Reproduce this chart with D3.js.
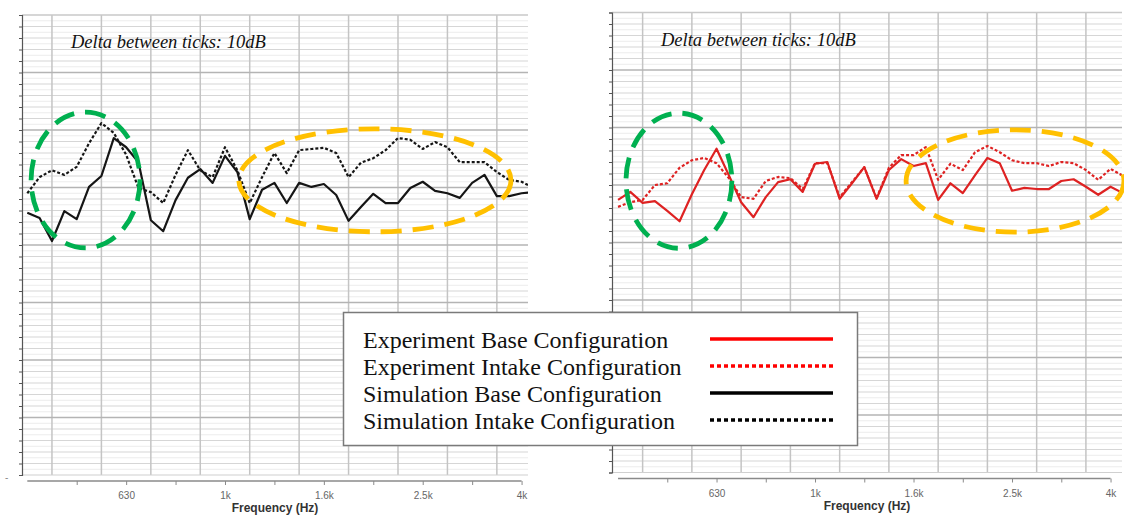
<!DOCTYPE html>
<html><head><meta charset="utf-8">
<script src="https://cdn.jsdelivr.net/npm/d3@7"></script>
<style>
html,body{margin:0;padding:0;background:#fff;}
svg{display:block;}
</style></head>
<body><svg id="chart" width="1124" height="515"></svg>
<script>
// 1/12-octave analysis frequencies (Hz)
const freqs = [396.9,420.4,445.4,471.9,500,529.7,561.2,594.6,630,667.4,707.1,749.2,793.7,840.9,890.9,943.9,1000,1059.5,1122.5,1189.2,1259.9,1334.8,1414.2,1498.3,1587.4,1681.8,1781.8,1887.7,2000,2118.9,2244.9,2378.4,2519.8,2669.6,2828.4,2996.6,3174.8,3363.6,3563.6,3775.5,4000,4237.9];
// level (dB, relative)
const simBase   = [45.6,44.7,40.7,45.9,44.5,50.1,52.0,58.6,57.0,54.4,44.3,42.4,47.8,51.7,53.2,50.8,55.5,52.7,44.5,49.6,50.8,47.3,50.8,50.1,50.6,48.7,44.2,46.6,48.9,47.3,47.3,49.9,51.0,49.4,49.0,48.2,50.8,52.2,48.5,48.5,49.0,49.2];
const simIntake = [49.0,51.8,53.0,52.2,53.6,57.7,61.2,59.5,55.7,49.9,49.2,47.3,52.2,56.5,53.0,51.8,57.0,53.0,47.3,51.8,56.0,52.5,56.5,56.7,56.9,56.0,51.8,54.3,55.1,56.5,58.6,58.3,56.7,57.9,57.0,54.4,54.4,54.4,52.7,51.3,51.0,49.9];
const expBase   = [47.4,48.8,46.9,47.2,45.5,43.7,48.4,52.6,56.3,51.7,47.0,44.4,47.9,50.5,51.0,48.8,53.7,54.0,47.6,50.3,53.1,47.6,52.6,54.5,53.3,53.8,47.4,50.3,48.6,51.7,54.7,53.8,49.0,49.5,49.3,49.3,50.7,51.0,49.7,48.3,49.7,48.6];
const expIntake = [46.2,47.0,47.4,50.0,50.3,53.0,54.3,54.7,53.8,51.2,47.9,47.6,50.7,51.4,51.2,49.3,53.8,53.8,47.9,50.5,53.1,47.7,53.0,55.2,55.2,56.6,50.9,53.7,52.6,55.7,56.8,55.7,54.3,53.8,53.8,53.3,54.0,53.8,52.6,50.9,52.8,51.6];

const tickFreqs  = [500,630,793.7,1000,1259.9,1587.4,2000,2519.8,3174.8,4000];
const tickLabels = ["","630","","1k","","1.6k","","2.5k","","4k"];
const gridFreqs  = [445.4,561.2,707.1,890.9,1122.5,1414.2,1781.8,2244.9,2828.4,3563.6];
const legendLabels = ["Experiment Base Configuration","Experiment Intake Configuration","Simulation Base Configuration","Simulation Intake Configuration"];
const noteText = "Delta between ticks: 10dB";
const xTitle = "Frequency (Hz)";
// highlight regions: [fLow, fHigh, dBLow, dBHigh]
const leftGreen  = [404, 672, 39.5, 63.1];
const leftYellow = [1067, 3807, 42.3, 60.2];
const rightGreen = [412, 677, 39.0, 62.5];
const rightYellow= [1533, 4260, 41.8, 59.6];

const svg = d3.select("#chart");
const defs = svg.append("defs");

const styles = {
  expBase:   {stroke:"#de2222", dash:null, w:2.2},
  expIntake: {stroke:"#de2222", dash:"3,2", w:2.2},
  simBase:   {stroke:"#151515", dash:null, w:2.2},
  simIntake: {stroke:"#151515", dash:"3,2", w:2.2}
};

function panel(id, x0, x1, y0, y1, fDom, series, ellipses) {
  const x = d3.scaleLog().domain(fDom).range([x0, x1]);
  const y = d3.scaleLinear().domain([0, 80]).range([y1, y0]);
  const g = svg.append("g");
  defs.append("clipPath").attr("id", "clip" + id)
    .append("rect").attr("x", x0).attr("y", y0).attr("width", x1 - x0).attr("height", y1 - y0);

  // horizontal grid
  const sub = d3.range(1, 80, 2);
  g.selectAll(".hs").data(sub).join("line")
    .attr("x1", x0).attr("x2", x1).attr("y1", d => y(d)).attr("y2", d => y(d))
    .attr("stroke", "#ececec").attr("stroke-width", 1);
  const minor = d3.range(0, 81, 2).filter(d => d % 10 !== 0);
  g.selectAll(".hm").data(minor).join("line")
    .attr("x1", x0).attr("x2", x1).attr("y1", d => y(d)).attr("y2", d => y(d))
    .attr("stroke", "#d6d6d6").attr("stroke-width", 1.2);
  // vertical grid
  g.selectAll(".vg").data(gridFreqs).join("line")
    .attr("x1", d => x(d)).attr("x2", d => x(d)).attr("y1", y0).attr("y2", y1)
    .attr("stroke", "#c4c4c4").attr("stroke-width", 1.5);
  const major = d3.range(10, 80, 10);
  g.selectAll(".hM").data(major).join("line")
    .attr("x1", x0).attr("x2", x1).attr("y1", d => y(d)).attr("y2", d => y(d))
    .attr("stroke", "#b4b4b4").attr("stroke-width", 1.5);
  g.append("line").attr("x1", x0).attr("x2", x1).attr("y1", y0).attr("y2", y0)
    .attr("stroke", "#c8c8c8").attr("stroke-width", 1.5);
  g.append("line").attr("x1", x0).attr("x2", x1).attr("y1", y1).attr("y2", y1)
    .attr("stroke", "#d0d0d0").attr("stroke-width", 1.2);

  // y axis
  const ya = g.append("g").attr("transform", `translate(${x0},0)`)
    .call(d3.axisLeft(y).tickValues(d3.range(0, 81, 2)).tickSize(3).tickFormat(""));
  ya.select(".domain").attr("stroke", "#555").attr("stroke-width", 1.2);
  ya.selectAll(".tick line").attr("stroke", "#555");

  // x axis
  const axY = y1 + 6;
  const xa = g.append("g").attr("transform", `translate(0,${axY})`)
    .call(d3.axisBottom(x).tickValues(tickFreqs).tickSize(4).tickPadding(7)
      .tickFormat((d, i) => tickLabels[i]));
  xa.select(".domain").remove();
  xa.append("line").attr("x1", x(freqs[0])).attr("x2", x(4000)).attr("y1", 0).attr("y2", 0)
    .attr("stroke", "#8a8a8a").attr("stroke-width", 1.5);
  xa.selectAll(".tick line").attr("stroke", "#8a8a8a");
  xa.selectAll(".tick text").attr("fill", "#666").attr("font-size", 10)
    .attr("font-family", "Liberation Sans, Arial, sans-serif");
  g.append("text").attr("x", (x0 + x1) / 2).attr("y", y1 + 37).attr("text-anchor", "middle")
    .attr("font-family", "Liberation Sans, Arial, sans-serif").attr("font-weight", "bold")
    .attr("font-size", 12).attr("fill", "#333").text(xTitle);

  // data
  const line = d3.line().x((d, i) => x(freqs[i])).y(d => y(d));
  const dg = g.append("g").attr("clip-path", `url(#clip${id})`);
  series.forEach(s => {
    const st = styles[s.key];
    dg.append("path").datum(s.values).attr("d", line).attr("fill", "none")
      .attr("stroke", st.stroke).attr("stroke-width", st.w)
      .attr("stroke-dasharray", st.dash).attr("stroke-linejoin", "round");
  });

  // note
  g.append("text").attr("x", x0 + 49).attr("y", y0 + 33)
    .attr("font-family", "Liberation Serif, Times New Roman, serif").attr("font-style", "italic")
    .attr("font-size", 18.5).attr("fill", "#111").text(noteText);

  // highlight ellipses
  ellipses.forEach(e => {
    const [fl, fh, dl, dh] = e.r;
    const cx = (x(fl) + x(fh)) / 2, cy = (y(dl) + y(dh)) / 2;
    g.append("ellipse").attr("cx", cx).attr("cy", cy)
      .attr("rx", (x(fh) - x(fl)) / 2).attr("ry", (y(dl) - y(dh)) / 2)
      .attr("fill", "none").attr("stroke", e.c).attr("stroke-width", 4.8)
      .attr("stroke-dasharray", "21,11");
  });
}

panel("L", 22, 528, 15, 475, [387.2, 4122],
  [{key:"simBase", values:simBase}, {key:"simIntake", values:simIntake}],
  [{r:leftGreen, c:"#00b050"}, {r:leftYellow, c:"#ffc000"}]);
panel("R", 612, 1122, 12.5, 472.5, [385.8, 4221],
  [{key:"expBase", values:expBase}, {key:"expIntake", values:expIntake}],
  [{r:rightGreen, c:"#00b050"}, {r:rightYellow, c:"#ffc000"}]);

svg.append("text").attr("x", 5).attr("y", 481).attr("fill", "#888").attr("font-size", 10)
  .attr("font-family", "Liberation Sans, Arial, sans-serif").text("-");

// legend
const lg = svg.append("g");
lg.append("rect").attr("x", 343.5).attr("y", 312.5).attr("width", 514).attr("height", 133)
  .attr("fill", "#fff").attr("stroke", "#7a7a7a").attr("stroke-width", 1.5);
const legStyles = [
  {stroke:"#ff0000", dash:null}, {stroke:"#ff0000", dash:"4,3"},
  {stroke:"#000", dash:null}, {stroke:"#000", dash:"4,3"}
];
legendLabels.forEach((t, i) => {
  const cy = 340 + i * 27;
  lg.append("text").attr("x", 363).attr("y", cy + 8)
    .attr("font-family", "Liberation Serif, Times New Roman, serif").attr("font-size", 24)
    .attr("fill", "#111").text(t);
  lg.append("line").attr("x1", 710).attr("x2", 833).attr("y1", cy - 1).attr("y2", cy - 1)
    .attr("stroke", legStyles[i].stroke).attr("stroke-width", 3.5)
    .attr("stroke-dasharray", legStyles[i].dash);
});
</script>
</body></html>
